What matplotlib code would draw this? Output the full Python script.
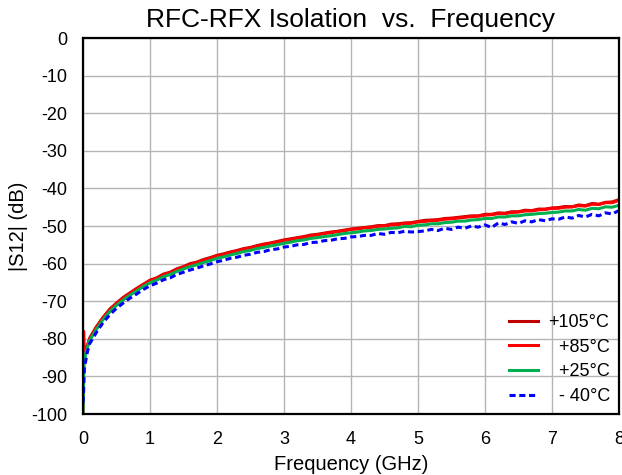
import matplotlib
matplotlib.use("Agg")
import matplotlib.pyplot as plt

plt.rcParams['font.family'] = ['Liberation Sans', 'DejaVu Sans']
plt.rcParams['axes.unicode_minus'] = False

# DATA
freq = [0.0, 0.01, 0.02, 0.04, 0.06, 0.08,
        0.1, 0.2, 0.3, 0.4, 0.5, 0.6, 0.7, 0.8, 0.9, 1.0,
        1.1, 1.2, 1.3, 1.4, 1.5, 1.6, 1.7, 1.8, 1.9, 2.0,
        2.1, 2.2, 2.3, 2.4, 2.5, 2.6, 2.7, 2.8, 2.9, 3.0,
        3.1, 3.2, 3.3, 3.4, 3.5, 3.6, 3.7, 3.8, 3.9, 4.0,
        4.1, 4.2, 4.3, 4.4, 4.5, 4.6, 4.7, 4.8, 4.9, 5.0,
        5.1, 5.2, 5.3, 5.4, 5.5, 5.6, 5.7, 5.8, 5.9, 6.0,
        6.1, 6.2, 6.3, 6.4, 6.5, 6.6, 6.7, 6.8, 6.9, 7.0,
        7.1, 7.2, 7.3, 7.4, 7.5, 7.6, 7.7, 7.8, 7.9, 8.0]

s12_105 = [-96, -82, -85, -83.5, -82.5, -81.2,
           -79.8, -76.8, -74.3, -72.1, -70.5, -69.0, -67.8, -66.6, -65.5, -64.4,
           -63.8, -62.8, -62.3, -61.4, -60.8, -60.0, -59.6, -58.9, -58.4, -57.8,
           -57.4, -56.9, -56.5, -56.0, -55.7, -55.2, -54.8, -54.5, -54.1, -53.7,
           -53.4, -53.1, -52.8, -52.4, -52.2, -51.9, -51.6, -51.4, -51.1, -50.8,
           -50.6, -50.4, -50.2, -49.9, -49.9, -49.5, -49.4, -49.2, -49.1, -48.8,
           -48.5, -48.4, -48.3, -48.0, -47.9, -47.7, -47.5, -47.3, -47.3, -46.9,
           -46.9, -46.5, -46.6, -46.2, -46.2, -45.8, -45.9, -45.5, -45.5, -45.2,
           -45.1, -44.8, -44.9, -44.4, -44.6, -44.0, -44.2, -43.7, -43.6, -43.0]

s12_85 = [-100, -78, -84, -83, -82, -81,
          -80.0, -77.0, -74.4, -72.3, -70.6, -69.2, -67.9, -66.8, -65.6, -64.6,
          -63.9, -63.0, -62.4, -61.6, -60.9, -60.3, -59.7, -59.1, -58.6, -58.0,
          -57.6, -57.1, -56.7, -56.2, -55.8, -55.4, -55.0, -54.6, -54.3, -53.9,
          -53.6, -53.2, -53.0, -52.6, -52.4, -52.0, -51.8, -51.5, -51.3, -50.9,
          -50.8, -50.5, -50.4, -50.1, -50.0, -49.7, -49.7, -49.3, -49.3, -48.9,
          -48.8, -48.6, -48.5, -48.2, -48.1, -47.9, -47.7, -47.5, -47.4, -47.1,
          -47.0, -46.7, -46.7, -46.4, -46.3, -46.0, -46.0, -45.7, -45.6, -45.3,
          -45.3, -45.0, -44.9, -44.6, -44.7, -44.2, -44.3, -43.8, -43.8, -43.2]

s12_25 = [-100, -90, -86, -84, -82.5, -81.5,
          -80.4, -77.5, -74.9, -72.8, -71.1, -69.7, -68.4, -67.3, -66.1, -65.1,
          -64.4, -63.5, -62.9, -62.1, -61.4, -60.8, -60.3, -59.7, -59.2, -58.6,
          -58.2, -57.7, -57.3, -56.8, -56.5, -56.0, -55.7, -55.3, -55.0, -54.6,
          -54.3, -53.9, -53.7, -53.3, -53.1, -52.8, -52.6, -52.3, -52.0, -51.8,
          -51.6, -51.3, -51.2, -50.9, -50.8, -50.6, -50.5, -50.1, -50.2, -49.8,
          -49.7, -49.4, -49.4, -49.1, -49.0, -48.7, -48.7, -48.4, -48.3, -48.0,
          -48.0, -47.6, -47.6, -47.3, -47.3, -47.0, -46.9, -46.7, -46.6, -46.4,
          -46.3, -46.0, -46.0, -45.6, -45.8, -45.3, -45.4, -44.9, -45.0, -44.5]

s12_m40 = [-97, -94, -88, -86, -84, -82.5,
           -81.3, -78.3, -75.7, -73.6, -71.9, -70.5, -69.2, -68.1, -66.9, -65.9,
           -65.2, -64.3, -63.8, -62.9, -62.3, -61.7, -61.2, -60.6, -60.1, -59.5,
           -59.1, -58.6, -58.3, -57.8, -57.5, -57.0, -56.8, -56.3, -56.1, -55.6,
           -55.4, -55.0, -54.9, -54.4, -54.3, -53.9, -53.8, -53.4, -53.3, -52.9,
           -52.8, -52.5, -52.5, -52.0, -52.2, -51.7, -51.8, -51.4, -51.6, -51.5,
           -51.3, -50.9, -51.2, -50.6, -50.9, -50.3, -50.6, -50.0, -50.3, -49.7,
           -50.4, -49.2, -49.6, -48.9, -49.3, -48.6, -48.9, -48.3, -48.6, -48.1,
           -48.2, -47.6, -47.9, -47.2, -47.6, -46.9, -47.3, -46.5, -46.8, -45.9]

labels = ["+105°C", "  +85°C", "  +25°C", "  - 40°C"]

fig = plt.figure(figsize=(6.22, 4.75), dpi=100)
ax = fig.add_axes([0.1334, 0.1284, 0.8616, 0.7916])

ax.plot(freq, s12_105, color="#C00000", lw=2.2, label=labels[0])
ax.plot(freq, s12_85, color="#FF0000", lw=2.2, label=labels[1])
ax.plot(freq, s12_25, color="#00B050", lw=2.2, label=labels[2])
ax.plot(freq, s12_m40, color="#0000FF", lw=2.2, ls=(0, (2, 1.2)), label=labels[3])

ax.set_xlim(0, 8)
ax.set_ylim(-100, 0)
ax.set_xticks(range(0, 9))
ax.set_yticks(range(-100, 1, 10))
ax.grid(True, color="#b4b4b4", lw=1.0)
ax.tick_params(length=0, labelsize=13)
ax.tick_params(axis="y", pad=11.5)
ax.tick_params(axis="x", pad=12)
for sp in ax.spines.values():
    sp.set_linewidth(1.6)
    sp.set_color("black")

ax.set_title("RFC-RFX Isolation  vs.  Frequency", fontsize=19, pad=8)
ax.set_xlabel("Frequency (GHz)", fontsize=14.5, labelpad=5)
ax.set_ylabel("|S12| (dB)", fontsize=14.5, labelpad=2)

ax.legend(loc="lower right", frameon=False, fontsize=13, handlelength=1.6,
          handletextpad=0.6, labelspacing=0.42, borderaxespad=0.1)

fig.savefig("out.png", dpi=100)
